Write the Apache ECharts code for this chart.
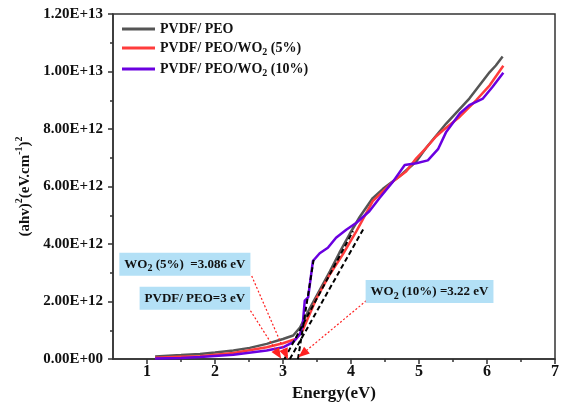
<!DOCTYPE html>
<html><head><meta charset="utf-8">
<script src="https://cdn.jsdelivr.net/npm/echarts@6/dist/echarts.min.js"></script>
<style>html,body{margin:0;padding:0;background:#fff}#c{width:562px;height:407px}</style>
</head><body><div id="c"></div>
<script>
// Data (y in units of 1e12)
const seriesNames = ['PVDF/ PEO', 'PVDF/ PEO/WO2 (5%)', 'PVDF/ PEO/WO2 (10%)'];
const pvdfPeo = [[1.12,0.09],[1.5,0.14],[1.78,0.18],[2.0,0.23],[2.27,0.30],[2.51,0.39],[2.76,0.53],[3.0,0.70],[3.15,0.82],[3.25,1.1],[3.39,1.75],[3.54,2.4],[3.69,3.05],[3.83,3.7],[3.98,4.35],[4.13,4.95],[4.32,5.6],[4.47,5.92],[4.71,6.35],[4.96,6.87],[5.10,7.33],[5.40,8.19],[5.74,9.06],[5.89,9.52],[6.04,9.98],[6.13,10.21],[6.23,10.52]];
const wo2_5 = [[1.12,0.05],[1.5,0.08],[1.78,0.10],[2.27,0.21],[2.76,0.41],[3.0,0.55],[3.19,0.70],[3.29,1.0],[3.49,2.1],[3.69,2.95],[3.88,3.64],[4.08,4.45],[4.32,5.49],[4.62,6.18],[4.81,6.52],[4.96,6.98],[5.1,7.33],[5.25,7.74],[5.35,7.95],[5.6,8.43],[5.84,9.0],[6.04,9.52],[6.24,10.2]];
const wo2_10 = [[1.12,0.02],[1.5,0.04],[1.78,0.07],[2.27,0.15],[2.76,0.30],[3.0,0.41],[3.15,0.59],[3.25,0.87],[3.29,1.2],[3.32,2.03],[3.37,2.15],[3.44,3.41],[3.54,3.68],[3.66,3.87],[3.78,4.22],[3.93,4.5],[4.08,4.74],[4.27,5.14],[4.42,5.6],[4.62,6.18],[4.79,6.75],[4.96,6.81],[5.13,6.91],[5.28,7.3],[5.40,7.9],[5.60,8.54],[5.74,8.83],[5.94,9.06],[6.08,9.46],[6.24,9.96]];
// Tangent (extrapolation) lines
const tangentPEO = [[3.02,0],[4.03,4.45]];
const tangent5 = [[3.1,0],[4.2,4.6]];
const tangent10 = [[3.22,0],[3.45,3.45]];
// Annotations
const annot = [
  {text: 'WO2 (5%)  =3.086 eV', at: [1.557, 3.30], from: [2.54, 2.89], to: [3.04, 0.17]},
  {text: 'PVDF/ PEO=3 eV', at: [1.704, 2.12], from: [2.49, 1.80], to: [2.93, 0.17]},
  {text: 'WO2 (10%) =3.22 eV', at: [5.155, 2.35], from: [4.225, 2.03], to: [3.29, 0.19]}
];
const xMajor = [1,2,3,4,5,6,7];
const xMinor = [1.5,2.5,3.5,4.5,5.5,6.5];

const SCALE = 1e12;
const FONT = 'Liberation Serif';
const colors = ['#555555', '#ff3c3c', '#6a00e0'];
function toXY(arr){ return arr.map(p => [p[0], p[1]*SCALE]); }
function fmtY(v){
  if (v === 0) return '0.00E+00';
  const e = Math.floor(Math.log10(v) + 1e-9);
  const m = v / Math.pow(10, e);
  return m.toFixed(2) + 'E+' + String(e).padStart(2, '0');
}
function richWO(s){
  const i = s.indexOf('WO2');
  if (i < 0) return '{b|' + s + '}';
  const before = s.slice(0, i), after = s.slice(i + 3);
  return (before ? '{b|' + before + '}' : '') + '{b|WO}{s|2}' + (after ? '{b|' + after + '}' : '');
}

const richBase = {
  b: {fontFamily: FONT, fontWeight: 'bold', fontSize: 13, color: '#111', lineHeight: 18},
  s: {fontFamily: FONT, fontWeight: 'bold', fontSize: 10, color: '#111', lineHeight: 18, verticalAlign: 'bottom'}
};
const legendRich = {
  b: {fontFamily: FONT, fontWeight: 'bold', fontSize: 14, color: '#111', lineHeight: 18},
  s: {fontFamily: FONT, fontWeight: 'bold', fontSize: 10, color: '#111', lineHeight: 14, verticalAlign: 'bottom'}
};

const chart = echarts.init(document.getElementById('c'), null, {renderer: 'canvas'});
const axisCol = '#333';
const dashed = {color: '#000', type: [5,3], width: 2};

const option = {
  animation: false,
  grid: {left: 113, right: 7, top: 14, bottom: 45, show: true, borderColor: axisCol, borderWidth: 1.5, containLabel: false},
  color: colors,
  legend: {
    data: seriesNames, orient: 'vertical', left: 117, top: 17, itemWidth: 33, itemHeight: 10, itemGap: 5,
    icon: 'path://M0,4 L33,4 L33,7 L0,7 Z',
    formatter: n => richWO(n),
    textStyle: {rich: legendRich}
  },
  xAxis: [{
    type: 'value', min: 0.5, max: 7, interval: 0.5,
    name: 'Energy(eV)', nameLocation: 'middle', nameGap: 25,
    nameTextStyle: {fontFamily: FONT, fontWeight: 'bold', fontSize: 17, color: '#111'},
    axisLine: {show: true, lineStyle: {color: axisCol, width: 1.5}},
    axisTick: {show: true, customValues: xMajor, length: 5, inside: false, lineStyle: {color: axisCol, width: 1.5}},
    axisLabel: {customValues: xMajor, fontFamily: FONT, fontWeight: 'bold', fontSize: 16, color: '#111', margin: 5},
    splitLine: {show: false}
  }, {
    type: 'value', min: 0.5, max: 7, interval: 0.5, position: 'bottom',
    axisLine: {show: false}, axisLabel: {show: false}, splitLine: {show: false},
    axisTick: {show: true, customValues: xMinor, length: 3, lineStyle: {color: axisCol, width: 1.5}}
  }],
  yAxis: {
    type: 'value', min: 0, max: 1.2e13, interval: 2e12,
    name: '{b|(ahv)}{p|2}{b|(eV.cm}{p|-1}{b|)}{p|2}', nameLocation: 'middle', nameGap: 78, nameRotate: 90,
    nameTextStyle: {rich: {
      b: {fontFamily: FONT, fontWeight: 'bold', fontSize: 15, color: '#111', lineHeight: 20},
      p: {fontFamily: FONT, fontWeight: 'bold', fontSize: 10, color: '#111', lineHeight: 20, verticalAlign: 'top'}
    }},
    axisLine: {show: true, lineStyle: {color: axisCol, width: 1.5}},
    axisTick: {show: true, length: 5, lineStyle: {color: axisCol, width: 1.5}},
    minorTick: {show: true, splitNumber: 2, length: 3, lineStyle: {color: axisCol, width: 1.5}},
    axisLabel: {formatter: fmtY, fontFamily: FONT, fontWeight: 'bold', fontSize: 15, color: '#111', margin: 10},
    splitLine: {show: false}
  },
  series: [
    {name: seriesNames[0], type: 'line', data: toXY(pvdfPeo), showSymbol: false, symbol: 'none', lineStyle: {width: 2.5, color: colors[0]}, z: 3},
    {name: seriesNames[1], type: 'line', data: toXY(wo2_5), showSymbol: false, symbol: 'none', lineStyle: {width: 2.5, color: colors[1]}, z: 3},
    {name: seriesNames[2], type: 'line', data: toXY(wo2_10), showSymbol: false, symbol: 'none', lineStyle: {width: 2.5, color: colors[2]}, z: 3},
    {name: 't1', type: 'line', data: toXY(tangentPEO), symbol: 'none', lineStyle: dashed, z: 4},
    {name: 't2', type: 'line', data: toXY(tangent5), symbol: 'none', lineStyle: dashed, z: 4},
    {name: 't3', type: 'line', data: toXY(tangent10), symbol: 'none', lineStyle: dashed, z: 4,
      markLine: {
        silent: true, symbol: ['none', 'triangle'], symbolSize: [9, 11],
        lineStyle: {color: '#ff2020', type: [2,2], width: 1.2},
        label: {show: false},
        data: annot.map(a => [{coord: [a.from[0], a.from[1]*SCALE]}, {coord: [a.to[0], a.to[1]*SCALE]}])
      },
      markPoint: {
        silent: true, symbol: 'rect', symbolSize: 1, itemStyle: {color: 'rgba(0,0,0,0)'},
        label: {show: true, position: 'inside', backgroundColor: '#b3e0f6', padding: [3,5,2,5], rich: richBase},
        data: annot.map(a => ({coord: [a.at[0], a.at[1]*SCALE], label: {formatter: richWO(a.text)}}))
      }
    }
  ]
};
chart.setOption(option);
</script></body></html>
